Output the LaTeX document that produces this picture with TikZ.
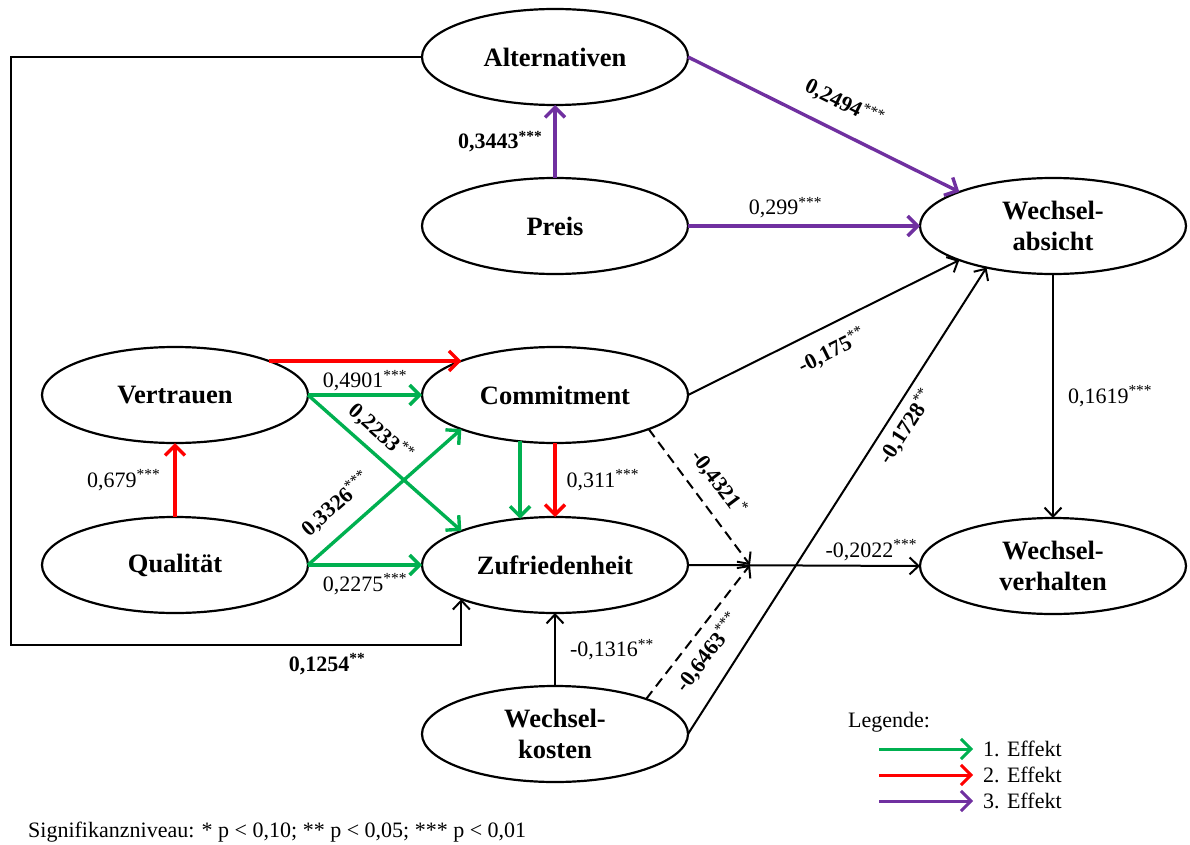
\documentclass[tikz,border=0pt]{standalone}
\usepackage{fontspec}
\setmainfont{Liberation Serif}
\usetikzlibrary{arrows.meta,shapes.geometric}
\definecolor{effA}{RGB}{0,176,80}
\definecolor{effB}{RGB}{255,0,0}
\definecolor{effC}{RGB}{112,48,160}
\newcommand{\sig}[1]{\textsuperscript{#1}}

\begin{document}
\begin{tikzpicture}[x=1pt,y=-1pt,
  construct/.style={ellipse, draw, line width=2.2pt, minimum width=266pt,
    minimum height=96pt, inner sep=0pt, outer sep=0pt, align=center,
    font=\fontsize{26.5}{31}\selectfont\bfseries},
  link/.style={line width=2pt, -{Straight Barb[length=9pt,width=17pt]}},
  eff/.style={line width=3.4pt, -{Straight Barb[length=10pt,width=20pt]}},
  lbl/.style={text=black, font=\fontsize{22}{24}\selectfont, inner sep=2pt},
  blbl/.style={text=black, font=\fontsize{22}{24}\selectfont\bfseries, inner sep=2pt},
  note/.style={text=black, font=\fontsize{22}{24}\selectfont, inner sep=0pt},
  dashline/.style={dash pattern=on 10pt off 6pt},
]
\useasboundingbox (0,0) rectangle (1190,845);

% constructs
\node[construct] (alt)   at (555,57)   {Alternativen};
\node[construct] (preis) at (555,226)  {Preis};
\node[construct] (wa)    at (1053,226) {Wechsel-\\absicht};
\node[construct] (vert)  at (175,395)  {Vertrauen};
\node[construct] (qual)  at (175,565)  {Qualität};
\node[construct] (com)   at (555,395)  {Commitment};
\node[construct] (zuf)   at (555,565)  {Zufriedenheit};
\node[construct] (wk)    at (555,734)  {Wechsel-\\kosten};
\node[construct] (wv)    at (1053,566) {Wechsel-\\verhalten};

\coordinate (lt) at (11,645);
\coordinate (J)  at (750,565);

% feedback path Alternativen -> Zufriedenheit
\draw[link] (alt.west) -| (lt) -| (zuf.200);
\node[blbl] (l1254) at (327,664) {0,1254\sig{**}};

% third effect
\draw[eff, effC] (preis.north) -- (alt.south)
  node[blbl, midway, left=9pt] {0,3443\sig{***}};
\draw[eff, effC] (alt.east) -- (wa.160)
  node[blbl, sloped, pos=0.53, above=14pt] {0,2494\sig{\mdseries***}};
\draw[eff, effC] (preis.east) -- (wa.west)
  node[lbl, pos=0.42, above=4pt] {0,299\sig{***}};

% second effect
\draw[eff, effB] (vert.20) -- (com.160);
\draw[eff, effB] (qual.north) -- (vert.south)
  node[lbl, midway, left=11pt] {0,679\sig{***}};
\draw[eff, effB] (com.south) -- (zuf.north)
  node[lbl, midway, right=8pt] {0,311\sig{***}};

% first effect
\draw[eff, effA] (vert.east) -- (com.west)
  node[lbl, midway, above=0pt] {0,4901\sig{***}};
\draw[eff, effA] (vert.east) -- (zuf.160)
  node[blbl, sloped, pos=0.39, above=6pt] {0,2233\sig{\mdseries**}};
\draw[eff, effA] (qual.east) -- (com.200)
  node[blbl, sloped, pos=0.3, above=13pt] {0,3326\sig{\mdseries***}};
\draw[eff, effA] (qual.east) -- (zuf.west)
  node[lbl, midway, below=5pt] {0,2275\sig{***}};
\draw[eff, effA] (com.233) -- (zuf.127);

% direct effects on switching
\draw[link] (com.east) -- (wa.200)
  node[blbl, sloped, pos=0.49, below=11pt] {-0,175\sig{\mdseries**}};
\draw[link] (wk.east) -- (wa.212)
  node[blbl, sloped, pos=0.68, below=5pt] {-0,1728\sig{\mdseries**}};
\draw[link] (wa.south) -- (wv.north)
  node[lbl, midway, right=12pt] {0,1619\sig{***}};
\draw[link] (zuf.east) -- (wv.west)
  node[lbl, pos=0.79, above=2pt] {-0,2022\sig{***}};
\draw[link] (wk.north) -- (zuf.south)
  node[lbl, midway, right=12pt] {-0,1316\sig{**}};

% moderating paths
\draw[link, dashline] (com.340) -- (J)
  node[blbl, sloped, pos=0.5, above=11pt] {-0,4321\sig{\mdseries*}};
\draw[link, dashline] (wk.21) -- (J)
  node[blbl, sloped, pos=0.44, below=7pt] {-0,6463\sig{\mdseries***}};

% legend
\node[note, anchor=west] (leg) at (848,722) {Legende:};
\node[note, anchor=west] (e1) at (983,749) {1. Effekt};
\node[note, anchor=west] (e2) at (983,775) {2. Effekt};
\node[note, anchor=west] (e3) at (983,801) {3. Effekt};
\coordinate (s1) at (879,749);
\coordinate (s2) at (879,775);
\coordinate (s3) at (879,801);
\draw[eff, effA, line width=3pt] (s1) -- ([xshift=-10pt]e1.west);
\draw[eff, effB, line width=3pt] (s2) -- ([xshift=-10pt]e2.west);
\draw[eff, effC, line width=3pt] (s3) -- ([xshift=-10pt]e3.west);

% significance levels
\node[note, anchor=west] (sigl) at (28,832)
  {Signifikanzniveau: * p < 0,10; ** p < 0,05; *** p < 0,01};
\end{tikzpicture}
\end{document}
